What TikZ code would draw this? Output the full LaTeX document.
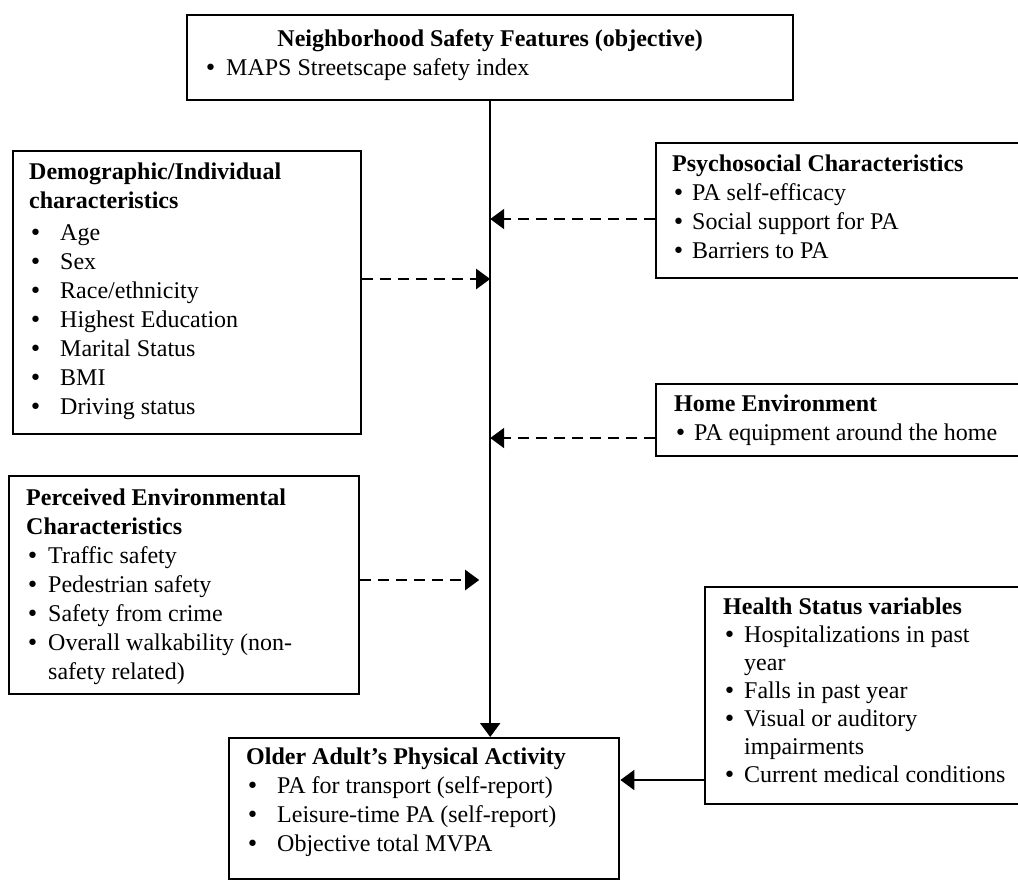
\documentclass[tikz,border=0pt]{standalone}
\usepackage{fontspec}
\setmainfont{Liberation Serif}
\newfontfamily\dotfont{DejaVu Sans}
\usetikzlibrary{arrows.meta,positioning}
\newlength{\pxu}\setlength{\pxu}{0.5pt}
\newcommand{\boxtext}[4]{\parbox[c][#2\pxu][t]{#1\pxu}{\raggedright\leftskip=#3\pxu\relax #4}}
\newcommand{\bigdot}{{\dotfont\fontsize{11}{11}\selectfont •}}
\newcommand{\bul}[2]{\par\noindent\hangindent=#1\pxu\hangafter=1\makebox[#1\pxu][l]{\bigdot}#2}
\newcommand{\firstline}[1]{\rule{0pt}{#1\pxu}}
\tikzset{box/.style={draw,line width=1.2pt,anchor=north west,inner sep=0pt,font=\fontsize{12}{14.5}\selectfont},
  arr/.style={-{Triangle[length=7pt,width=10pt]},line width=1.1pt},
  darr/.style={arr,dash pattern=on 5.5pt off 3.5pt}}

\begin{document}
\begin{tikzpicture}[x=0.5pt,y=-0.5pt]
\useasboundingbox (0,0) rectangle (1018,880);
\node[box] (feat) at (186,14) {\boxtext{606}{85}{17}{{\centering\firstline{31}\textbf{Neighborhood Safety Features (objective)}\par}\bul{22}{MAPS Streetscape safety index}}};
\node[box] (demo) at (12,150) {\boxtext{348}{283}{16}{\firstline{28}\textbf{Demographic/Individual\newline characteristics}\par\vspace{3\pxu}\bul{31}{Age}\bul{31}{Sex}\bul{31}{Race/ethnicity}\bul{31}{Highest Education}\bul{31}{Marital Status}\bul{31}{BMI}\bul{31}{Driving status}}};
\node[box] (psych) at (655,142) {\boxtext{370}{135}{16}{\firstline{28}\textbf{Psychosocial Characteristics}\bul{20}{PA self-efficacy}\bul{20}{Social support for PA}\bul{20}{Barriers to PA}}};
\node[box] (home) at (655,383) {\boxtext{370}{72}{18}{\firstline{27}\textbf{Home Environment}\bul{20}{PA equipment around the home}}};
\node[box] (perc) at (8,475) {\boxtext{350}{218}{17}{\firstline{29}\textbf{Perceived Environmental\newline Characteristics}\bul{22}{Traffic safety}\bul{22}{Pedestrian safety}\bul{22}{Safety from crime}\bul{22}{Overall walkability (non-\newline safety related)}}};
\node[box] (health) at (704,586) {\boxtext{320}{217}{18}{\fontsize{12}{14}\selectfont\firstline{27}\textbf{Health Status variables}\bul{21}{Hospitalizations in past\newline year}\bul{21}{Falls in past year}\bul{21}{Visual or auditory\newline impairments}\bul{21}{Current medical conditions}}};
\node[box] (older) at (228,737) {\boxtext{390}{141}{17}{\firstline{26}\textbf{Older Adult’s Physical Activity}\bul{31}{PA for transport (self-report)}\bul{31}{Leisure-time PA (self-report)}\bul{31}{Objective total MVPA}}};
\coordinate (y1) at (0,219);
\coordinate (y2) at (0,279);
\coordinate (y3) at (0,438);
\coordinate (y4) at (0,580);
\coordinate (y5) at (0,780);
\draw[arr] (feat.south) -- (feat.south |- older.north);
\draw[darr] (psych.west |- y1) -- (feat.south |- y1);
\draw[darr] (demo.east |- y2) -- (feat.south |- y2);
\draw[darr] (home.west |- y3) -- (feat.south |- y3);
\draw[darr,shorten >=11\pxu] (perc.east |- y4) -- (feat.south |- y4);
\draw[arr] (health.west |- y5) -- (older.east |- y5);
\end{tikzpicture}
\end{document}
